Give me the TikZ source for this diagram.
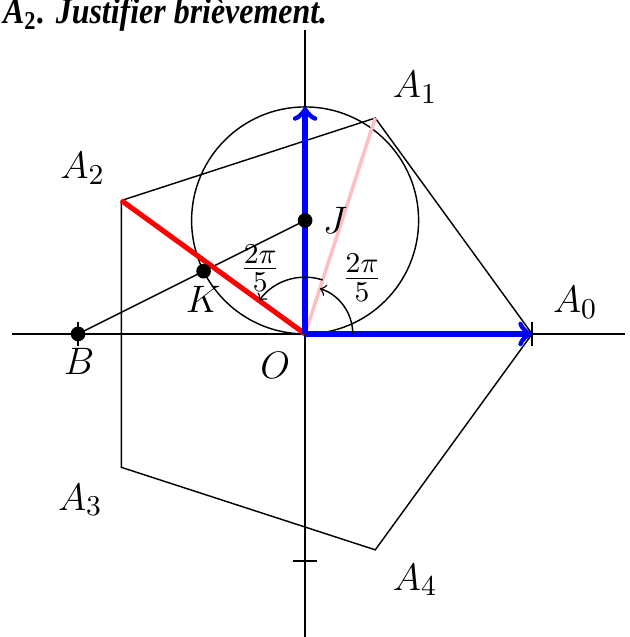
\documentclass[tikz,border=0pt]{standalone}
\usepackage{fontspec}
\newfontfamily\titlefont[FakeStretch=0.87]{Liberation Serif}
\usetikzlibrary{calc}
\begin{document}
\begin{tikzpicture}[x=2.5cm,y=2.5cm,
  thinline/.style={line width=0.45pt,black},
  bluevec/.style={blue,line width=1.7pt,->},
  anglearc/.style={line width=0.45pt,->},
  dotpt/.style={circle,fill=black,inner sep=0pt,minimum size=4.6pt},
  lab/.style={inner sep=1pt,font=\fontsize{12.4}{15}\selectfont}]
\useasboundingbox (-1.344,-1.335) rectangle (1.427,1.471);
% points
\coordinate (O) at (0,0);
\coordinate (A0) at (0:1);
\coordinate (A1) at (72:1);
\coordinate (A2) at (144:1);
\coordinate (A3) at (216:1);
\coordinate (A4) at (288:1);
\coordinate (B) at (-1,0);
\coordinate (J) at (0,0.5);
\coordinate (K) at (-0.4472136,0.2763932);
\coordinate (U) at (0,1);
\coordinate (Ym) at (0,-1);
\coordinate (XL) at (-1.29,0);
\coordinate (XR) at (1.41,0);
\coordinate (YB) at (0,-1.34);
\coordinate (YT) at (0,1.34);
% axes
\draw[thinline] (XL) -- (XR);
\draw[thinline] (YB) -- (YT);
% ticks
\draw[thinline] ($(B)+(0,0.053)$) -- ($(B)+(0,-0.053)$);
\draw[thinline] ($(A0)+(0,0.053)$) -- ($(A0)+(0,-0.053)$);
\draw[thinline] ($(Ym)+(-0.053,0)$) -- ($(Ym)+(0.053,0)$);
% pentagon
\draw[thinline] (A0) -- (A1) -- (A2) -- (A3) -- (A4) -- cycle;
% circle
\draw[thinline] (J) circle (0.5);
% line B J
\draw[thinline] (B) -- (J);
% coloured segments
\draw[red,line width=1.6pt] (A2) -- (O);
\draw[pink,line width=1.1pt] (O) -- (A1);
\draw[bluevec] (O) -- (A0);
\draw[bluevec] (O) -- (U);
% angle arcs
\draw[anglearc] (0.21,0) arc (0:72:0.21);
\draw[anglearc] (72:0.25) arc (72:144:0.25);
% dots
\node[dotpt] (nB) at (B) {};
\node[dotpt] (nJ) at (J) {};
\node[dotpt] (nK) at (K) {};
% labels
\node[lab] (lA0) at (1.19,0.14) {$A_0$};
\node[lab] (lA1) at (0.485,1.085) {$A_1$};
\node[lab] (lA2) at (-0.98,0.73) {$A_2$};
\node[lab] (lA3) at (-0.99,-0.731) {$A_3$};
\node[lab] (lA4) at (0.485,-1.084) {$A_4$};
\node[lab] (lB) at (-0.996,-0.123) {$B$};
\node[lab] (lO) at (-0.132,-0.137) {$O$};
\node[lab] (lJ) at (0.132,0.502) {$J$};
\node[lab] (lK) at (-0.449,0.15) {$K$};
\node[lab] (f1) at (0.251,0.247) {$\frac{2\pi}{5}$};
\node[lab] (f2) at (-0.198,0.29) {$\frac{2\pi}{5}$};
% title
\node[anchor=base west,inner sep=0pt] (title) at (-1.333,1.366)
  {\titlefont\fontsize{11.5}{13}\selectfont\bfseries\itshape A\textsubscript{\upshape 2}. Justifier brièvement.};
\end{tikzpicture}
\end{document}
